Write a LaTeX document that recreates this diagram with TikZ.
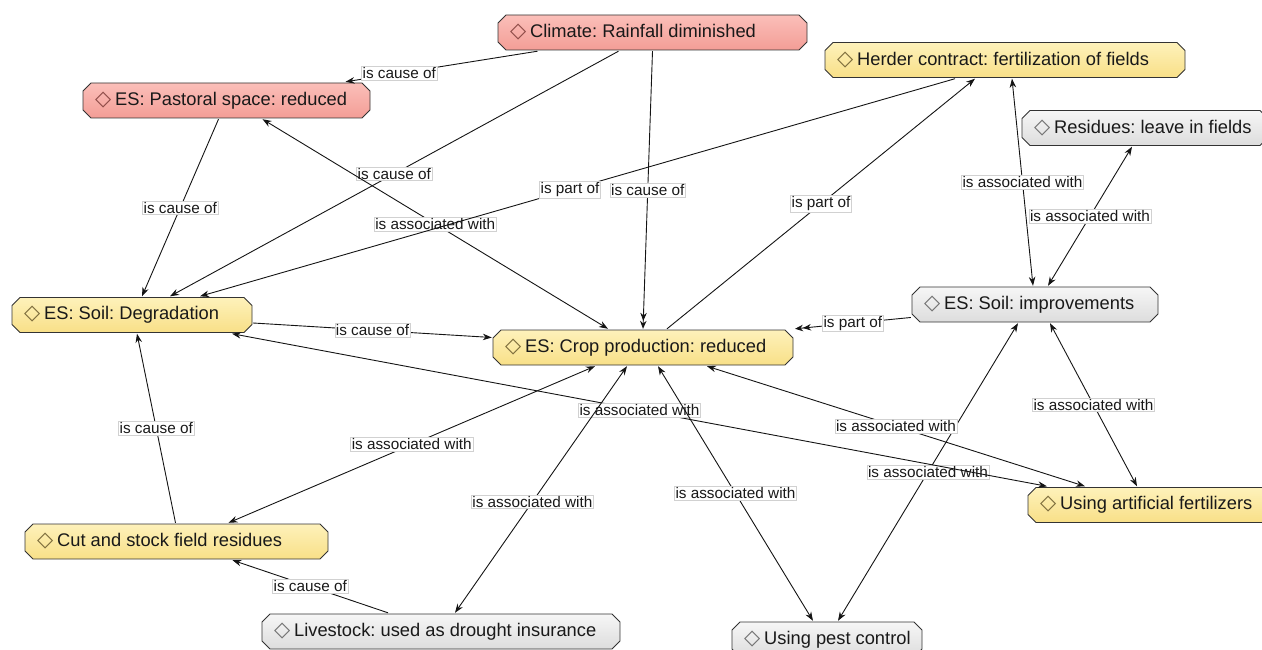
\documentclass[tikz,border=0pt]{standalone}
\usepackage{fontspec}
\setmainfont{Liberation Sans}
\newfontfamily\symfam{DejaVu Sans}
\usetikzlibrary{arrows.meta}

\definecolor{pinkTop}{HTML}{FBC0BA}
\definecolor{pinkBot}{HTML}{F39C95}
\definecolor{yelTop}{HTML}{FEF2BC}
\definecolor{yelBot}{HTML}{F8DF86}
\definecolor{greyTop}{HTML}{F7F7F7}
\definecolor{greyBot}{HTML}{DCDCDC}
\definecolor{edgeInk}{HTML}{141414}
\definecolor{diaRed}{HTML}{8C4A46}
\definecolor{diaYel}{HTML}{7A6A3A}
\definecolor{diaGrey}{HTML}{707070}

% diamond marker followed by the concept text, left aligned in a box of width #1
\newcommand{\ctxt}[3]{\makebox[\dimexpr#1pt-24pt\relax][l]{{\symfam\color{#2}\fontsize{21}{22}\selectfont ◇}\hspace{4pt}#3}}

\tikzset{
  concept/.style 2 args={rectangle, inner sep=0pt, minimum height=37pt,
    font=\fontsize{18.3}{21}\selectfont, text=black!90,
    path picture={
      \path[top color=#1, bottom color=#2, draw=black!80, line width=0.9pt]
        ([xshift=9pt,yshift=-1pt]path picture bounding box.north west)
        -- ([xshift=-9pt,yshift=-1pt]path picture bounding box.north east)
        -- ([xshift=-1pt,yshift=-9pt]path picture bounding box.north east)
        -- ([xshift=-1pt,yshift=9pt]path picture bounding box.south east)
        -- ([xshift=-9pt,yshift=1pt]path picture bounding box.south east)
        -- ([xshift=9pt,yshift=1pt]path picture bounding box.south west)
        -- ([xshift=1pt,yshift=9pt]path picture bounding box.south west)
        -- ([xshift=1pt,yshift=-9pt]path picture bounding box.north west)
        -- cycle;
    }},
  redc/.style={concept={pinkTop}{pinkBot}, minimum width=#1pt+2pt},
  yelc/.style={concept={yelTop}{yelBot}, minimum width=#1pt+2pt},
  greyc/.style={concept={greyTop}{greyBot}, minimum width=#1pt+2pt},
  link/.style={draw=edgeInk, line width=0.9pt, -{Stealth[length=9pt,width=6.5pt]}},
  both/.style={link, {Stealth[length=9pt,width=6.5pt]}-{Stealth[length=9pt,width=6.5pt]}},
  twin/.style={link, -{Stealth[length=8pt,width=6.5pt]Stealth[length=8pt,width=6.5pt]}},
  lbl/.style={fill=white, draw=black!18, line width=0.4pt, inner sep=1.2pt,
    font=\fontsize{15.3}{17}\selectfont, text=black!90}
}

\begin{document}
\frenchspacing
\begin{tikzpicture}[x=1pt,y=-1pt]
\useasboundingbox (0,0) rectangle (1262,650);

% concepts
\node[redc=309]  (cl) at (652.5,32.5) {\ctxt{309}{diaRed}{Climate: Rainfall diminished}};
\node[redc=287]  (ps) at (226.5,100.5) {\ctxt{287}{diaRed}{ES: Pastoral space: reduced}};
\node[yelc=360]  (hc) at (1005,60)    {\ctxt{360}{diaYel}{Herder contract: fertilization of fields}};
\node[greyc=246] (rs) at (1145,128)   {\ctxt{246}{diaGrey}{Residues: leave in fields}};
\node[yelc=240]  (sd) at (132,315)    {\ctxt{240}{diaYel}{ES: Soil: Degradation}};
\node[yelc=300]  (cp) at (643,347.5)  {\ctxt{300}{diaYel}{ES: Crop production: reduced}};
\node[greyc=246] (si) at (1035,304.5) {\ctxt{246}{diaGrey}{ES: Soil: improvements}};
\node[yelc=250]  (af) at (1153,505)   {\ctxt{250}{diaYel}{Using artificial fertilizers}};
\node[yelc=303]  (cs) at (176.5,541.5) {\ctxt{303}{diaYel}{Cut and stock field residues}};
\node[greyc=358] (ls) at (441,631.5)  {\ctxt{358}{diaGrey}{Livestock: used as drought insurance}};
\node[greyc=190] (pc) at (827,639.5)  {\ctxt{190}{diaGrey}{Using pest control}};

% relations
\draw[link] ([xshift=-115pt]cl.south) -- node[lbl,pos=.72] {is cause of} ([xshift=119pt]ps.north);
\draw[link] ([xshift=-34pt]cl.south) -- node[lbl] {is cause of} ([xshift=38pt]sd.north);
\draw[twin] (cl.south) -- node[lbl] {is cause of} (cp.north);
\draw[link] ([xshift=-8pt]ps.south) -- node[lbl] {is cause of} ([xshift=10pt]sd.north);
\draw[both] ([xshift=36pt]ps.south) -- node[lbl] {is associated with} ([xshift=-35pt]cp.north);
\draw[link] ([xshift=-50pt]hc.south) -- node[lbl,pos=.51] {is part of} ([xshift=68pt]sd.north);
\draw[link] ([yshift=-8pt]sd.east) -- node[lbl] {is cause of} ([yshift=10pt]cp.west);
\draw[twin] ([yshift=-13pt]si.west) -- node[lbl] {is part of} ([xshift=152pt]cp.north);
\draw[link] ([xshift=24pt]cp.north) -- node[lbl] {is part of} ([xshift=-30pt]hc.south);
\draw[both] ([xshift=7pt]hc.south) -- node[lbl] {is associated with} ([xshift=-2pt]si.north);
\draw[both] ([xshift=-13pt]rs.south) -- node[lbl] {is associated with} ([xshift=13pt]si.north);
\draw[both] ([xshift=15pt]si.south) -- node[lbl] {is associated with} ([xshift=-16pt]af.north);
\draw[both] ([xshift=-17pt]si.south) -- node[lbl] {is associated with} ([xshift=11pt]pc.north);
\draw[both] ([xshift=100pt]sd.south) -- node[lbl] {is associated with} ([xshift=-106pt]af.north);
\draw[both] ([xshift=64pt]cp.south) -- node[lbl] {is associated with} ([xshift=-68pt]af.north);
\draw[both] ([xshift=52pt]cs.north) -- node[lbl] {is associated with} ([xshift=-48pt]cp.south);
\draw[both] ([xshift=14pt]ls.north) -- node[lbl,pos=.45] {is associated with} ([xshift=-16pt]cp.south);
\draw[both] ([xshift=-14pt]pc.north) -- node[lbl] {is associated with} ([xshift=15pt]cp.south);
\draw[link] ([xshift=-1pt]cs.north) -- node[lbl] {is cause of} ([xshift=5pt]sd.south);
\draw[link] ([xshift=-53pt]ls.north) -- node[lbl] {is cause of} ([xshift=56pt]cs.south);
\end{tikzpicture}
\end{document}
